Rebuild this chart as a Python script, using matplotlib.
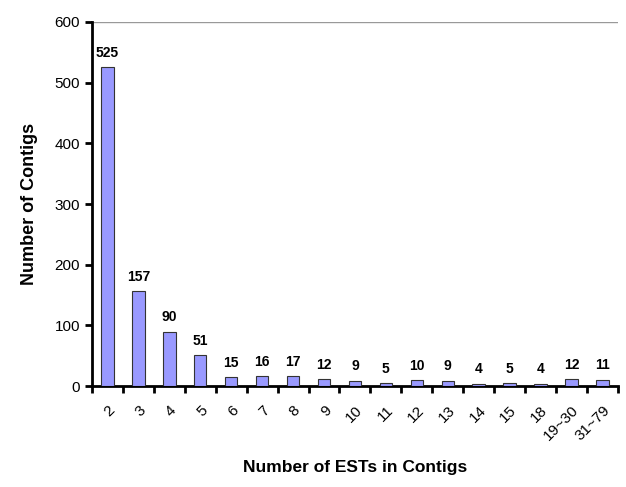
import numpy as np
import matplotlib
matplotlib.use("Agg")
import matplotlib.pyplot as plt

plt.rcParams["font.family"] = ["Liberation Sans", "DejaVu Sans"]

CATEGORIES = ["2", "3", "4", "5", "6", "7", "8", "9", "10", "11", "12",
              "13", "14", "15", "18", "19~30", "31~79"]
CONTIGS = [525, 157, 90, 51, 15, 16, 17, 12, 9, 5, 10, 9, 4, 5, 4, 12, 11]

fig = plt.figure(figsize=(6.26, 4.87), dpi=100)
ax = fig.add_axes([0.147, 0.207, 0.84, 0.748])

x = np.arange(len(CATEGORIES))
bars = ax.bar(x, CONTIGS, width=0.4, color="#9999ff", edgecolor="#333333",
              linewidth=0.8, zorder=3)

for xi, v in zip(x, CONTIGS):
    ax.text(xi, v + 12, str(v), ha="center", va="bottom",
            fontsize=10, fontweight="bold")

ax.set_xlim(-0.5, len(CATEGORIES) - 0.5)
ax.set_ylim(0, 600)
ax.set_yticks(range(0, 601, 100))
ax.axhline(600, color="#999999", linewidth=1, zorder=1)

# tick marks sit between categories, labels at category centres
ax.set_xticks(x)
ax.set_xticklabels(CATEGORIES, rotation=45, ha="right", rotation_mode="anchor",
                   fontsize=11)
ax.tick_params(axis="x", which="major", length=0, pad=12)
ax.set_xticks(np.arange(-0.5, len(CATEGORIES)), minor=True)
ax.tick_params(axis="x", which="minor", length=5, width=2, direction="out")
ax.tick_params(axis="y", length=5, width=2, direction="out", labelsize=11)

for side in ["top", "right"]:
    ax.spines[side].set_visible(False)
ax.spines["left"].set_linewidth(2)
ax.spines["bottom"].set_linewidth(2)

ax.set_ylabel("Number of Contigs", fontsize=13, fontweight="bold", labelpad=12)
ax.set_xlabel("Number of ESTs in Contigs", fontsize=12.5, fontweight="bold",
              labelpad=12)

fig.savefig("out.png", dpi=100)
